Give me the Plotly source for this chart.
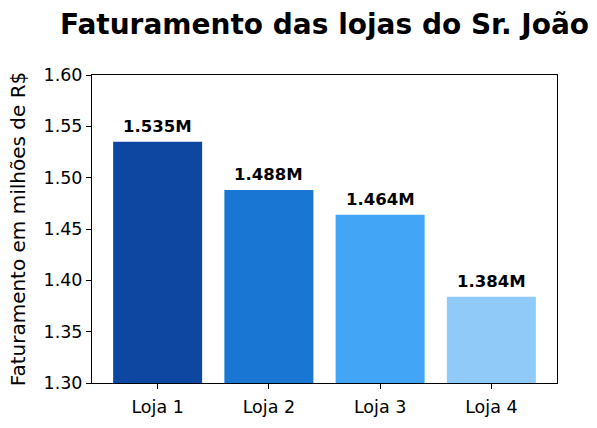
import plotly.graph_objects as go

lojas = ["Loja 1", "Loja 2", "Loja 3", "Loja 4"]
faturamento = [1.535, 1.488, 1.464, 1.384]
rotulos = ["1.535M", "1.488M", "1.464M", "1.384M"]
cores = ["#0D47A1", "#1976D2", "#42A5F5", "#90CAF9"]

fig = go.Figure()
fig.add_trace(go.Bar(
    x=lojas, y=faturamento, marker=dict(color=cores, line=dict(width=0)),
    width=0.8,
))

for xi, yi, t in zip(lojas, faturamento, rotulos):
    fig.add_annotation(x=xi, y=yi, text="<b>%s</b>" % t, showarrow=False,
                       yanchor="bottom", yshift=4,
                       font=dict(family="DejaVu Sans", size=16.5, color="black"))

fig.update_layout(
    width=597, height=428,
    paper_bgcolor="white", plot_bgcolor="white",
    margin=dict(l=92, r=40, t=75, b=45, autoexpand=False),
    font=dict(family="DejaVu Sans", size=18, color="black"),
    title=dict(text="<b>Faturamento das lojas do Sr. João</b>", x=324.5 / 597, xanchor="center",
               y=1 - 24 / 428, yanchor="middle", font=dict(size=28, family="DejaVu Sans", color="black")),
    showlegend=False,
)
fig.update_xaxes(range=[-0.59, 3.59], showline=True, linecolor="black", linewidth=1, mirror=True,
                 ticks="outside", ticklen=5, tickcolor="black", showgrid=False,
                 tickfont=dict(size=17.5), ticklabelstandoff=3)
fig.update_yaxes(range=[1.30, 1.60], dtick=0.05, tickformat=".2f", showline=True, linecolor="black",
                 linewidth=1, mirror=True, ticks="outside", ticklen=5, tickcolor="black", showgrid=False,
                 zeroline=False, tickfont=dict(size=17.5),
                 title=dict(text="Faturamento em milhões de R$", font=dict(size=20), standoff=12))

fig.write_html("out.html", config={"displayModeBar": False},
               post_script="document.body.style.margin='0';")
